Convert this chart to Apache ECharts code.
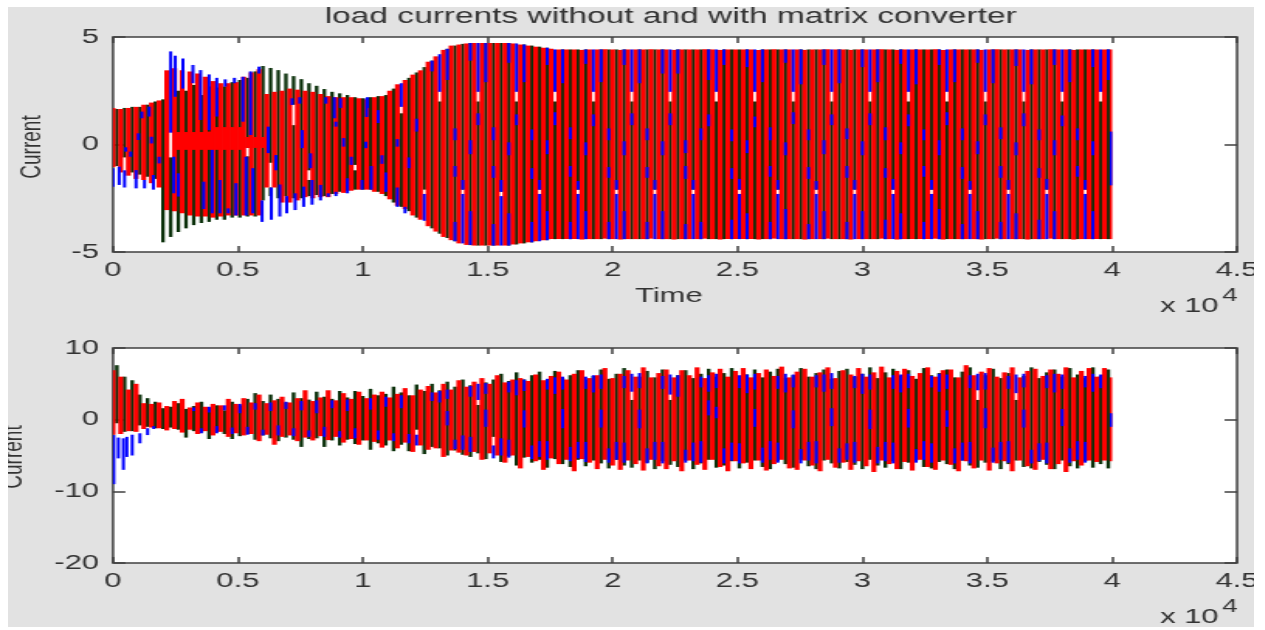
<!DOCTYPE html>
<html>
<head>
<meta charset="utf-8">
<title>load currents</title>
<script src="https://cdn.jsdelivr.net/npm/echarts@6/dist/echarts.min.js"></script>
<style>
html, body { margin: 0; padding: 0; background: #fff; overflow: hidden; }
#chart { position: absolute; left: 0; top: 0; width: 816px; height: 630px; transform: scaleX(1.55); transform-origin: 0 0; }
#frame { position: absolute; left: 0; top: 0; width: 1265px; height: 630px; box-sizing: border-box;
	border-left: 8px solid #fff; border-top: 7px solid #fff; border-right: 11px solid #fff; border-bottom: 3px solid #fff; }
</style>
</head>
<body>
<div id="chart"></div>
<div id="frame"></div>
<script type="text/javascript">
// every bar is one sample column, columns sit 40000/130 apart on the time axis
var slotTime = 40000 / 130;
var xTicks = ['0', '0.5', '1', '1.5', '2', '2.5', '3', '3.5', '4', '4.5'];

// upper plot, red trace: top and bottom of each column
var topRedHigh = [
	1.7,1.65,1.7,1.75,1.85,1.95,2.05,3.45,3.55,3.45,
	3.4,3.3,3.15,2.95,2.85,2.85,2.9,3.15,3.35,3.5,
	2.35,2.45,2.5,2.6,2.55,2.5,2.45,2.35,2.25,2.2,
	2.2,2.2,2.15,2.1,2.2,2.25,2.5,2.8,3.0,3.25,
	3.45,3.85,4.1,4.4,4.6,4.65,4.7,4.72,4.72,4.72,
	4.72,4.72,4.7,4.65,4.6,4.55,4.5,4.45,4.42,4.42,
	4.42,4.4,4.42,4.42,4.43,4.42,4.4,4.42,4.42,4.42,
	4.43,4.42,4.42,4.4,4.42,4.42,4.42,4.43,4.42,4.4,
	4.42,4.42,4.42,4.42,4.4,4.42,4.43,4.42,4.42,4.42,
	4.4,4.42,4.42,4.43,4.42,4.42,4.4,4.42,4.42,4.42,
	4.43,4.42,4.4,4.42,4.42,4.42,4.42,4.43,4.4,4.42,
	4.42,4.42,4.42,4.4,4.42,4.43,4.42,4.42,4.42,4.4,
	4.42,4.42,4.43,4.42,4.42,4.4,4.42,4.42,4.42,4.42,
	4.42
];
var topRedLow = [
	-1.05,-1.3,-1.45,-1.6,-1.65,-1.8,-2.0,-3.05,-3.1,-3.2,
	-3.3,-3.35,-3.35,-3.4,-3.35,-3.3,-3.3,-3.3,-3.3,-3.3,
	-2.0,-2.0,-2.7,-2.7,-2.6,-2.45,-2.5,-2.45,-2.45,-2.3,
	-2.25,-2.15,-2.1,-2.1,-2.2,-2.3,-2.55,-2.85,-3.0,-3.3,
	-3.5,-3.8,-4.05,-4.3,-4.45,-4.6,-4.67,-4.7,-4.7,-4.7,
	-4.7,-4.7,-4.65,-4.6,-4.55,-4.5,-4.45,-4.4,-4.4,-4.4,
	-4.4,-4.42,-4.4,-4.4,-4.38,-4.4,-4.42,-4.4,-4.4,-4.4,
	-4.38,-4.4,-4.4,-4.42,-4.4,-4.4,-4.4,-4.38,-4.4,-4.42,
	-4.4,-4.4,-4.4,-4.4,-4.42,-4.4,-4.38,-4.4,-4.4,-4.4,
	-4.42,-4.4,-4.4,-4.38,-4.4,-4.4,-4.42,-4.4,-4.4,-4.4,
	-4.38,-4.4,-4.42,-4.4,-4.4,-4.4,-4.4,-4.38,-4.42,-4.4,
	-4.4,-4.4,-4.4,-4.42,-4.4,-4.38,-4.4,-4.4,-4.4,-4.42,
	-4.4,-4.4,-4.38,-4.4,-4.4,-4.42,-4.4,-4.4,-4.4,-4.4,
	-4.4
];
// solid red patch round zero, early on: [slot, high, low]
var topRedBand = [
	[8.5,0.58,-0.25],[9.5,0.58,-0.25],[10.5,0.58,-0.25],[11.5,0.58,-0.25],[12.5,0.6,-0.25],
	[13.5,0.81,-0.25],[14.5,0.81,-0.25],[15.5,0.81,-0.25],[16.5,0.81,-0.25],
	[17.5,0.35,-0.16],[18.5,0.35,-0.16],[19.5,0.35,-0.16]
];

// upper plot, dark green trace, shows in the gaps between red columns
var topGreenHigh = [
	1.65,1.7,1.75,1.75,1.85,2.0,2.1,-0.6,2.5,2.5,
	2.77,2.3,2.7,2.65,2.7,2.9,3.0,-0.55,3.4,3.65,
	-2.0,3.46,3.3,0.9,3.04,-1.65,2.73,2.58,2.45,2.38,
	2.3,-1.2,2.15,2.2,2.25,2.3,2.6,1.45,3.1,3.35,
	3.6,3.9,2.0,4.45,4.6,4.68,4.72,2.0,4.72,4.72,
	4.72,4.72,2.0,4.65,4.6,4.55,4.5,2.0,4.42,4.42,
	4.42,4.42,2.0,4.42,4.42,4.42,4.42,2.0,4.42,4.42,
	4.42,4.42,2.0,4.42,4.42,4.42,4.42,4.42,2.0,4.42,
	4.42,4.42,4.42,2.0,4.42,4.42,4.42,4.42,2.0,4.42,
	4.42,4.42,4.42,2.0,4.42,4.42,4.42,4.42,2.0,4.42,
	4.42,4.42,4.42,2.0,4.42,4.42,4.42,4.42,2.0,4.42,
	4.42,4.42,4.42,2.0,4.42,4.42,4.42,4.42,2.0,4.42,
	4.42,4.42,4.42,2.0,4.42,4.42,4.42,4.42,2.0,4.42
];
var topGreenLow = [
	-1.0,-0.6,-1.3,-1.4,-1.5,-1.6,-4.55,-4.3,-4.07,-3.9,
	-3.75,-3.65,-3.6,-3.5,-3.5,-3.4,-3.4,-3.35,-3.35,-2.6,
	-2.4,-2.5,-2.4,-2.5,-2.5,-2.4,-2.35,-2.4,-2.3,-2.2,
	-2.15,-2.1,-2.1,-2.1,-2.2,-2.4,-2.7,-2.9,-3.1,-3.4,
	-2.1,-3.9,-4.15,-4.35,-4.5,-2.1,-4.68,-4.7,-4.7,-4.7,
	-2.2,-4.7,-4.65,-4.6,-4.55,-2.1,-4.45,-4.4,-4.4,-4.4,
	-2.1,-4.4,-4.4,-4.4,-4.4,-2.1,-4.4,-4.4,-4.4,-4.4,
	-2.1,-4.4,-4.4,-4.4,-4.4,-2.1,-4.4,-4.4,-4.4,-4.4,
	-4.4,-2.1,-4.4,-4.4,-4.4,-4.4,-2.1,-4.4,-4.4,-4.4,
	-4.4,-2.1,-4.4,-4.4,-4.4,-4.4,-2.1,-4.4,-4.4,-4.4,
	-4.4,-2.1,-4.4,-4.4,-4.4,-4.4,-2.1,-4.4,-4.4,-4.4,
	-4.4,-2.1,-4.4,-4.4,-4.4,-4.4,-2.1,-4.4,-4.4,-4.4,
	-4.4,-2.1,-4.4,-4.4,-4.4,-4.4,-2.1,-4.4,-4.4,-4.4
];
// upper part of a green stroke that is broken by a white spot
var topGreenTips = [[17.5,3.1,-0.15],[20.5,3.56,-0.85],[23.5,3.18,1.85],[25.5,2.85,-1.2],[31.5,2.2,-0.95]];

// upper plot, blue trace: only the pieces that can be seen, [slot, high, low]
var topBlue = [
	[0,-1.1,-1.96],[0.8,-1.03,-1.88],[1.5,-1.2,-2.0],[3,-1.19,-2.04],[4.1,-1.65,-2.04],[5.25,-1.42,-2.1],
	[1.65,-0.13,-0.33],[2.3,-0.33,-0.57],[3.3,0.52,0.21],[3.75,1.53,1.22],[4.7,1.76,1.3],[5,0.36,0.05],[6,-0.57,-0.88],
	[7.5,4.33,0.55],[8.1,4.13,2.22],[9.1,4,2.6],[10.4,3.7,2.85],[11.4,3.46,1.14],[12.5,3.26,0.67],[13.5,3.1,1.3],[14.6,3.03,2.69],[15.8,3.1,2.85],
	[7.9,-0.57,-2.27],[8.5,-1.34,-2.42],[11.8,-1.73,-3],[12.9,-0.25,-3.2],[13.9,-1.65,-3.2],[15,-2.97,-3.2],[16,-1.8,-3.3],
	[16.9,3.15,1.06],[17.9,3.4,0.44],[19,3.62,3.3],[20.2,0.83,-0.4],[21.2,-0.49,-1.2],[17.3,-0.57,-3.3],[18.2,-1.1,-3.2],[19.4,-2.6,-3.6],
	[20.6,-2,-3.5],[21.7,-1.86,-3.35],[22.6,-2.4,-3.2],[23.7,-2.27,-3.05],[24.8,-1.96,-2.9],[25.9,-1.65,-2.8],[27,-1.88,-2.6],[28,-2.27,-2.43],
	[29,-2.2,-2.4],[30.5,-1.57,-2.27],[32.4,-1.65,-2.1],[24.6,0.67,-0.17],[23.3,2.15,1.84],[24.3,2.2,1.9],[25.7,-0.41,-1.1],[27.7,2.2,1.9],
	[28.8,2.2,1.22],[29.6,2.15,1.7],[29,1.06,0.83],[30,0.3,-0.1],[31,-0.57,-0.95],[32.9,0.13,-0.17],[33.1,2.2,1.7],
	[33,2.16,1.28],[34.5,1.6,1],[33.6,-1,-2.1],[35.5,-1.3,-2.2],[37,0.25,-0.1],[35,-0.5,-0.9],[37,-2,-2.9],[37.5,2.85,1.75],[38,-2.9,-3.2],[39.5,1.2,0.6],[38.5,-0.6,-1.1],[40.5,-2.3,-3.55],
	[41.5,3.9,3.4],[42.5,4.2,2.45],[43.5,4.45,3.0],[44.5,0.75,0.2],[44.5,-1.0,-1.5],[45.5,-1.65,-2.1],[46.5,0.2,-0.45],[47.5,1.45,0.9],[44.5,-3.6,-4.5],[45.5,-2.3,-4.6],[46.5,-3.1,-4.67],
	[46.5,4.72,3.9],[47.5,4.72,2.45],[48.5,4.72,2.9],[49.5,0.8,0.2],[49.5,-1.0,-1.55],[50.5,-1.65,-2.2],[51.5,0.1,-0.5],[52.5,1.4,0.9],[49.5,-3.7,-4.7],[50.5,-2.4,-4.7],[51.5,-3.2,-4.7],
	[51.5,4.72,3.8],[52.5,4.7,2.45],[53.5,4.65,2.9],[54.5,0.7,0.2],[54.5,-1.1,-1.6],[55.5,-1.65,-2.1],[56.5,0.2,-0.45],[57.5,1.5,0.9],[54.5,-3.6,-4.55],[55.5,-2.3,-4.5],[56.5,-3.1,-4.45],
	[56.5,4.5,3.7],[57.5,4.42,2.45],[58.5,4.42,2.85],[59.5,0.8,0.25],[59.5,-1.0,-1.5],[60.5,-1.7,-2.1],[61.5,0.1,-0.5],[62.5,1.4,0.85],[59.5,-3.6,-4.4],[60.5,-2.3,-4.4],[61.5,-3.1,-4.4],
	[61.5,4.42,3.75],[62.5,4.42,2.45],[63.5,4.42,2.9],[64.5,0.75,0.2],[64.5,-1.05,-1.55],[65.5,-1.65,-2.1],[66.5,0.15,-0.5],[67.5,1.45,0.9],[64.5,-3.6,-4.4],[65.5,-2.3,-4.4],[66.5,-3.1,-4.4],
	[66.5,4.42,3.7],[67.5,4.42,2.45],[68.5,4.42,2.85],[69.5,0.75,0.2],[69.5,-1.05,-1.55],[70.5,-1.65,-2.1],[71.5,0.15,-0.5],[72.5,1.45,0.9],[69.5,-3.6,-4.4],[70.5,-2.3,-4.4],[71.5,-3.1,-4.4],
	[71.5,4.42,3.3],[72.5,4.42,2.45],[73.5,4.42,3.3],[74.5,0.2,-0.4],[74.5,-1.0,-1.6],[75.5,-1.65,-2.1],[76.5,0.75,0.2],[77.5,1.4,0.85],[74.5,-3.7,-4.4],[75.5,-2.3,-4.4],[76.5,-3.6,-4.4],
	[77.5,4.42,3.0],[78.5,4.42,2.45],[79.5,4.42,3.7],[80.5,0.7,0.15],[80.5,-1.1,-1.6],[81.5,-1.6,-2.1],[82.5,0.2,-0.4],[83.5,1.3,0.8],[80.5,-3.5,-4.4],[81.5,-2.3,-4.4],[82.5,-3.2,-4.4],
	[82.5,4.42,3.6],[83.5,4.42,2.45],[84.5,4.42,2.9],[85.5,0.8,0.2],[85.5,-1.0,-1.5],[86.5,-1.65,-2.1],[87.5,0.1,-0.5],[88.5,1.5,0.95],[85.5,-3.6,-4.4],[86.5,-2.3,-4.4],[87.5,-3.0,-4.4],
	[87.5,4.42,3.8],[88.5,4.42,2.45],[89.5,4.42,2.8],[90.5,0.7,0.2],[90.5,-1.05,-1.6],[91.5,-1.7,-2.1],[92.5,0.2,-0.45],[93.5,1.4,0.9],[90.5,-3.7,-4.4],[91.5,-2.3,-4.4],[92.5,-3.1,-4.4],
	[92.5,4.42,3.7],[93.5,4.42,2.45],[94.5,4.42,2.85],[95.5,0.75,0.25],[95.5,-1.0,-1.55],[96.5,-1.65,-2.1],[97.5,0.15,-0.5],[98.5,1.45,0.9],[95.5,-3.6,-4.4],[96.5,-2.3,-4.4],[97.5,-3.1,-4.4],
	[97.5,4.42,3.6],[98.5,4.42,2.45],[99.5,4.42,2.9],[100.5,0.8,0.2],[100.5,-1.1,-1.55],[101.5,-1.6,-2.1],[102.5,0.1,-0.45],[103.5,1.4,0.85],[100.5,-3.5,-4.4],[101.5,-2.3,-4.4],[102.5,-3.2,-4.4],
	[102.5,4.42,3.75],[103.5,4.42,2.45],[104.5,4.42,2.8],[105.5,0.7,0.2],[105.5,-1.0,-1.5],[106.5,-1.65,-2.1],[107.5,0.2,-0.5],[108.5,1.5,0.9],[105.5,-3.6,-4.4],[106.5,-2.3,-4.4],[107.5,-3.0,-4.4],
	[107.5,4.42,3.7],[108.5,4.42,2.45],[109.5,4.42,2.9],[110.5,0.75,0.2],[110.5,-1.05,-1.6],[111.5,-1.7,-2.1],[112.5,0.15,-0.45],[113.5,1.4,0.9],[110.5,-3.7,-4.4],[111.5,-2.3,-4.4],[112.5,-3.1,-4.4],
	[112.5,4.42,3.8],[113.5,4.42,2.45],[114.5,4.42,2.85],[115.5,0.8,0.25],[115.5,-1.0,-1.55],[116.5,-1.65,-2.1],[117.5,0.1,-0.5],[118.5,1.45,0.85],[115.5,-3.6,-4.4],[116.5,-2.3,-4.4],[117.5,-3.2,-4.4],
	[117.5,4.42,3.65],[118.5,4.42,2.45],[119.5,4.42,2.8],[120.5,0.7,0.2],[120.5,-1.1,-1.55],[121.5,-1.6,-2.1],[122.5,0.2,-0.5],[123.5,1.35,0.85],[120.5,-3.5,-4.4],[121.5,-2.3,-4.4],[122.5,-3.1,-4.4],
	[122.5,4.42,3.7],[123.5,4.42,2.45],[124.5,4.42,2.9],[125.5,0.75,0.2],[125.5,-1.0,-1.5],[126.5,-1.65,-2.1],[127.5,0.15,-0.5],[126.5,-2.3,-4.4],[127.5,-3.1,-4.4],
	[127.5,4.42,3.6],[128.5,4.42,2.45],[129.5,4.42,3.0],[129.9,0.6,-1.9]
];

// lower plot, same layout of columns
var bottomRedHigh = [
	6.9,6.0,4.2,5.0,2.3,2.2,2.4,1.9,2.6,2.9,
	1.7,2.4,1.8,2.2,2.0,2.9,2.2,3.0,2.4,3.5,
	2.3,2.7,3.2,2.4,3.0,4.1,2.6,3.1,4.1,2.7,
	3.7,2.9,3.9,3.0,3.5,3.9,3.1,3.6,4.4,3.4,
	4.2,4.7,3.8,5.0,4.2,5.5,4.6,5.3,5.8,5.0,
	6.2,5.2,5.6,5.8,5.4,6.3,5.5,6.1,6.7,5.6,
	6.4,6.9,5.8,6.2,7.2,5.8,6.4,6.9,6.0,7.3,
	5.9,6.5,7.0,5.9,6.9,6.2,7.3,5.8,6.6,7.1,
	6.0,6.8,7.2,5.9,6.5,7.0,6.1,7.4,5.9,6.7,
	7.1,6.0,6.6,7.3,5.8,6.9,6.3,7.2,6.0,6.6,
	7.4,5.9,6.8,7.1,6.1,6.5,7.3,6.0,6.9,7.0,
	5.9,7.6,6.2,6.7,7.2,6.0,6.6,7.3,5.9,6.8,
	7.1,6.1,7.0,6.4,7.3,5.9,6.8,7.2,6.0,7.2,
	5.9
];
var bottomRedLow = [
	-2.1,-2.0,-1.6,-1.7,-1.3,-1.1,-1.2,-1.5,-1.3,-1.8,
	-1.4,-2.0,-1.6,-2.2,-1.7,-2.4,-1.9,-2.2,-2.0,-3.0,
	-2.1,-3.5,-2.4,-2.2,-3.0,-2.5,-2.9,-2.3,-2.85,-2.4,
	-3.2,-2.7,-3.5,-2.9,-3.1,-3.9,-2.9,-4.0,-3.2,-4.5,
	-3.6,-4.2,-4.0,-5.2,-4.3,-4.6,-5.0,-4.5,-5.6,-4.7,
	-5.0,-6.0,-5.0,-6.8,-5.2,-5.8,-7.0,-5.4,-6.2,-5.6,
	-7.2,-5.5,-6.0,-6.9,-5.6,-6.4,-7.0,-5.7,-6.2,-7.1,
	-5.6,-6.5,-6.9,-5.8,-7.2,-5.7,-6.3,-7.0,-5.6,-6.6,
	-7.2,-5.8,-6.1,-6.9,-5.7,-7.1,-6.2,-5.6,-6.8,-7.0,
	-5.7,-6.4,-7.2,-5.6,-6.7,-6.0,-7.0,-5.8,-6.5,-7.3,
	-5.7,-6.2,-6.9,-5.9,-7.1,-5.6,-6.6,-7.0,-5.7,-6.3,
	-7.2,-5.8,-6.8,-5.7,-7.1,-6.1,-5.8,-7.2,-5.7,-6.5,
	-7.0,-5.6,-6.9,-6.2,-7.3,-5.8,-6.4,-5.7,-5.9,-5.7,
	-5.8
];
var bottomGreenHigh = [
	7.6,6.0,5.5,3.5,3.0,2.5,1.6,1.8,2.3,1.5,
	1.9,2.5,1.6,2.0,1.3,2.5,2.0,2.9,3.7,2.6,
	3.5,2.9,2.4,3.8,3.0,2.8,3.9,3.2,2.9,4.0,
	3.1,4.0,3.3,4.3,3.4,3.6,4.6,3.8,3.4,4.9,
	4.0,5.0,4.1,5.3,4.6,5.6,4.8,2.05,5.2,5.6,
	6.4,5.4,6.6,5.6,6.2,6.7,5.5,6.8,5.8,6.2,
	6.9,5.6,6.1,7.0,5.7,6.4,7.2,2.75,6.0,6.8,
	5.9,7.0,2.75,6.2,6.9,5.8,6.4,7.1,6.0,6.5,
	7.2,5.7,6.3,7.0,5.9,6.7,7.1,5.8,6.2,7.2,
	6.0,6.5,7.0,5.7,6.8,7.1,6.0,6.4,7.3,5.8,
	6.6,7.1,6.1,6.9,5.7,7.2,6.2,6.5,7.0,5.9,
	6.7,7.3,2.75,6.2,7.1,5.8,6.5,2.75,6.1,7.3,
	5.8,6.6,7.0,6.0,7.2,6.3,5.8,7.3,6.1,7.0
];
var bottomGreenLow = [
	-0.5,-1.7,-1.6,-0.8,-1.0,-1.2,-1.3,-1.1,-1.4,-2.5,
	-1.6,-1.8,-2.7,-1.7,-2.0,-2.7,-2.3,-2.0,-2.8,-2.2,
	-2.6,-3.0,-2.5,-2.8,-3.8,-2.7,-2.6,-3.8,-2.9,-3.6,
	-2.8,-3.4,-2.9,-4.2,-3.3,-3.6,-4.4,-3.5,-4.4,-1.4,
	-4.8,-3.8,-4.0,-5.0,-4.3,-4.9,-5.2,-4.7,-5.5,-2.4,
	-5.9,-5.1,-6.4,-5.3,-6.0,-5.6,-6.7,-5.5,-6.2,-6.6,
	-5.6,-6.5,-5.7,-6.1,-6.8,-5.6,-6.4,-6.7,-5.7,-6.0,
	-6.9,-5.8,-6.3,-6.6,-5.7,-6.9,-6.1,-5.6,-6.7,-6.4,
	-5.8,-6.8,-6.0,-5.7,-6.6,-6.9,-5.8,-6.2,-6.7,-5.6,
	-6.5,-6.9,-5.7,-6.1,-6.8,-5.9,-6.3,-6.9,-5.6,-6.4,
	-6.7,-5.8,-6.9,-6.0,-5.7,-6.6,-6.8,-5.9,-6.2,-6.9,
	-5.7,-6.4,-6.7,-6.0,-5.8,-6.9,-6.2,-5.7,-6.6,-6.8,
	-5.9,-6.3,-6.9,-5.7,-6.5,-6.8,-5.8,-6.7,-6.2,-6.8
];
var bottomBlue = [
	[0.1,-2.15,-9.0],[0.7,-2.5,-5.4],[1.35,-2.6,-7.0],[1.8,-2.4,-5.2],[2.5,-2.1,-5.0],[3.5,-1.9,-3.3],[4.5,-1.2,-2.15],[5.3,-0.9,-1.3],
	[10.5,1.7,1.2],[12.5,1.8,1.0],[14.5,2.0,1.3],[16.5,2.2,0.9],[18.5,2.3,1.4],[20.5,2.4,1.2],[22.5,2.5,1.5],[24.5,2.6,1.3],[26.5,2.7,0.9],
	[28.5,2.7,1.6],[30.5,2.8,1.2],[33.5,3.0,1.4],[35.5,3.2,1.8],[37.5,3.4,1.6],
	[11.5,-1.2,-1.9],[13.5,-0.9,-1.9],[15.5,-1.1,-2.0],[17.5,-1.0,-2.1],[19.5,-1.4,-2.2],[21.5,-0.8,-2.2],[23.5,-1.2,-2.3],[25.5,-1.5,-2.4],
	[27.5,-1.0,-2.4],[29.5,-1.6,-2.5],[31.5,-1.2,-2.6],[34.5,-1.5,-2.8],[36.5,-1.9,-3.0],[38.5,-2.0,-3.3],[39.5,-2.1,-3.6],
	[41.5,3.8,2.6],[42.5,4.0,2.4],[43.5,4.2,2.9],[44.5,-2.8,-4.1],[45.5,-2.2,-4.2],[46.5,-2.4,-4.5],[43.5,1.2,-0.8],
	[46.5,4.7,3.2],[47.5,5.0,2.75],[48.5,5.1,3.6],[49.5,-3.6,-5.4],[50.5,-2.6,-5.0],[51.5,-2.8,-5.3],[48.5,1.4,-1.0],
	[51.5,5.3,3.8],[52.5,5.5,3.4],[53.5,5.6,4.0],[54.5,-3.6,-5.5],[55.5,-3.0,-5.2],[56.5,-3.0,-5.6],[53.5,1.3,-1.1],
	[56.5,5.7,4.2],[57.5,5.9,3.6],[58.5,6.0,4.2],[59.5,-3.8,-5.8],[60.5,-3.1,-5.4],[61.5,-3.1,-5.9],[58.5,1.5,-1.2],
	[61.5,6.0,4.3],[62.5,6.2,3.8],[63.5,6.3,4.3],[64.5,-4.0,-6.0],[65.5,-3.1,-5.6],[66.5,-3.2,-6.0],[63.5,1.4,-1.1],
	[66.5,6.1,4.4],[67.5,6.4,3.9],[68.5,6.5,4.4],[69.5,-4.0,-6.1],[70.5,-3.1,-5.6],[71.5,-3.1,-6.1],[68.5,1.4,-1.2],
	[71.5,6.1,4.3],[72.5,6.3,3.5],[73.5,6.2,3.2],[74.5,-4.2,-6.0],[75.5,-3.2,-5.8],[76.5,-3.0,-6.0],[77.5,2.7,0.6],
	[76.5,6.0,4.5],[77.5,6.2,3.9],[78.5,6.4,4.4],[79.5,-4.0,-6.1],[80.5,-3.2,-5.7],[81.5,-3.3,-6.1],[78.5,1.8,0.2],
	[81.5,6.2,4.4],[82.5,6.3,3.7],[83.5,6.4,4.2],[84.5,-3.9,-6.0],[85.5,-3.0,-5.6],[86.5,-3.2,-6.0],[83.5,1.5,-1.0],
	[86.5,6.1,4.3],[87.5,6.4,3.8],[88.5,6.3,4.5],[89.5,-4.1,-6.1],[90.5,-3.1,-5.7],[91.5,-3.0,-6.1],[88.5,1.3,-1.2],
	[91.5,6.2,4.5],[92.5,6.3,3.9],[93.5,6.5,4.3],[94.5,-4.0,-6.0],[95.5,-3.3,-5.6],[96.5,-3.1,-6.0],[93.5,1.6,-0.9],
	[96.5,6.1,4.4],[97.5,6.4,3.6],[98.5,6.3,4.2],[99.5,-3.8,-6.1],[100.5,-3.1,-5.8],[101.5,-3.2,-6.1],[98.5,1.4,-1.3],
	[101.5,6.2,4.3],[102.5,6.3,3.8],[103.5,6.4,4.4],[104.5,-4.1,-6.0],[105.5,-3.0,-5.6],[106.5,-3.3,-6.0],[103.5,1.5,-1.1],
	[106.5,6.1,4.5],[107.5,6.4,3.9],[108.5,6.3,4.3],[109.5,-4.0,-6.1],[110.5,-3.2,-5.7],[111.5,-3.1,-6.1],[108.5,1.3,-1.0],
	[111.5,6.2,4.4],[112.5,6.4,4.1],[113.5,6.5,4.2],[114.5,-3.9,-6.0],[115.5,-3.1,-5.6],[116.5,-3.0,-6.0],[113.5,1.6,-1.2],
	[116.5,6.1,4.3],[117.5,6.3,3.7],[118.5,6.4,4.5],[119.5,-4.2,-6.1],[120.5,-3.3,-5.8],[121.5,-3.2,-6.1],[118.5,1.4,-1.1],
	[121.5,6.2,4.4],[122.5,6.4,3.8],[123.5,6.3,4.3],[124.5,-4.0,-6.0],[125.5,-3.0,-5.6],[126.5,-3.1,-6.0],[123.5,1.5,-0.9],
	[126.5,6.1,4.5],[127.5,6.4,3.9],[128.5,6.3,4.4],[129.9,0.9,-1.0]
];

var SX = 1.55; // the whole picture is stretched sideways
var fontFamily = '"Liberation Sans", Arial, sans-serif';
var textColor = '#333';
var lineColor = '#404040';

// [slot, high, low] to [time, high, low]
function columns(high, low, offset) {
	return high.map(function (hi, i) { return [(i + offset) * slotTime, hi, low[i]]; });
}
function pieces(list) {
	return list.map(function (p) { return [p[0] * slotTime, p[1], p[2]]; });
}

function stripes(width, color) {
	return function (params, api) {
		var top = api.coord([api.value(0), api.value(1)]);
		var bottom = api.coord([api.value(0), api.value(2)]);
		var left = Math.max(top[0] - width / 2, api.coord([0, 0])[0]);
		var right = Math.min(top[0] + width / 2, api.coord([40000, 0])[0]);
		return {
			type: 'rect',
			shape: { x: left, y: top[1], width: right - left, height: bottom[1] - top[1] },
			style: { fill: color }
		};
	};
}

function trace(name, grid, data, width, color, z) {
	return {
		name: name,
		type: 'custom',
		xAxisIndex: grid * 2,
		yAxisIndex: grid * 2,
		renderItem: stripes(width, color),
		encode: { x: 0, y: [1, 2] },
		data: data,
		z: z,
		silent: true,
		animation: false
	};
}

function xAxes(grid) {
	return [{
		type: 'value', gridIndex: grid, position: 'bottom', min: 0, max: 45000, interval: 5000,
		splitLine: { show: false },
		axisLine: { show: false, onZero: false },
		axisTick: { inside: true, length: 6, lineStyle: { color: lineColor, width: 1.5 } },
		axisLabel: {
			color: textColor, fontFamily: fontFamily, fontSize: 20, margin: 8, hideOverlap: false,
			formatter: function (v) { return xTicks[v / 5000]; }
		}
	}, {
		type: 'value', gridIndex: grid, position: 'top', min: 0, max: 45000, interval: 5000,
		splitLine: { show: false },
		axisLine: { show: false, onZero: false },
		axisLabel: { show: false },
		axisTick: { inside: true, length: 6, lineStyle: { color: lineColor, width: 1.5 } }
	}];
}
function yAxes(grid, min, max, step) {
	return [{
		type: 'value', gridIndex: grid, position: 'left', min: min, max: max, interval: step,
		splitLine: { show: false },
		axisLine: { show: false, onZero: false },
		axisTick: { inside: true, length: 8, lineStyle: { color: lineColor, width: 1.5 } },
		axisLabel: { color: textColor, fontFamily: fontFamily, fontSize: 20, margin: 9 }
	}, {
		type: 'value', gridIndex: grid, position: 'right', min: min, max: max, interval: step,
		splitLine: { show: false },
		axisLine: { show: false, onZero: false },
		axisLabel: { show: false },
		axisTick: { inside: true, length: 8, lineStyle: { color: lineColor, width: 1.5 } }
	}];
}

function label(text, x, y, size, rotated) {
	return {
		type: 'text', x: x / SX, y: y, rotation: rotated ? Math.PI / 2 : 0, silent: true,
		style: {
			text: text, fill: textColor, fontFamily: fontFamily, fontSize: size,
			textAlign: rotated ? 'center' : 'left', textVerticalAlign: 'middle'
		}
	};
}

var gridBox = {
	show: true, left: 113 / SX, width: 1124 / SX, height: 215,
	backgroundColor: '#fff', borderColor: lineColor, borderWidth: 1.5
};

var chart = echarts.init(document.getElementById('chart'));
chart.setOption({
	backgroundColor: '#e2e2e2',
	animation: false,
	title: {
		text: 'load currents without and with matrix converter',
		left: 663 / SX, top: 1, textAlign: 'center',
		textStyle: { color: textColor, fontFamily: fontFamily, fontSize: 21.6, fontWeight: 'normal' }
	},
	grid: [
		Object.assign({ top: 37 }, gridBox),
		Object.assign({ top: 348 }, gridBox)
	],
	xAxis: xAxes(0).concat(xAxes(1)),
	yAxis: yAxes(0, -5, 5, 5).concat(yAxes(1, -20, 10, 10)),
	graphic: [
		label('Current', 32, 147, 19, true),
		label('Current', 14, 457, 19, true),
		label('Time', 635, 296, 20, false),
		label('x 10', 1160, 306, 20, false),
		label('4', 1222, 296, 18, false),
		label('x 10', 1160, 617, 20, false),
		label('4', 1222, 607, 18, false)
	],
	series: [
		trace('green', 0, columns(topGreenHigh, topGreenLow, 0.5).concat(pieces(topGreenTips)), 2.3, '#0a300a', 1),
		trace('red', 0, columns(topRedHigh, topRedLow, 0), 3.2, '#ff0000', 2),
		trace('red', 0, pieces(topRedBand), 3, '#ff0000', 3),
		trace('blue', 0, pieces(topBlue), 2.0, '#0000ff', 4),
		trace('green', 1, columns(bottomGreenHigh, bottomGreenLow, 0.5), 2.4, '#0a300a', 1),
		trace('red', 1, columns(bottomRedHigh, bottomRedLow, 0), 3.2, '#ff0000', 2),
		trace('blue', 1, pieces(bottomBlue), 2.0, '#0000ff', 4)
	]
});
</script>
</body>
</html>
